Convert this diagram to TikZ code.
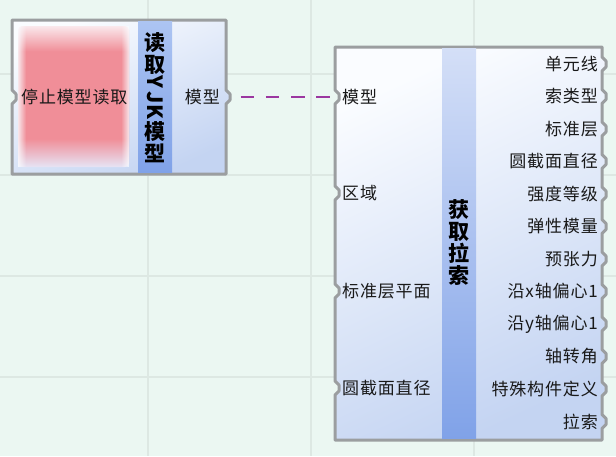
\documentclass[tikz,border=0pt]{standalone}
\usepackage{fontspec}
\usetikzlibrary{fadings}
\newfontfamily\portfont{Noto Sans CJK SC}[LetterSpace=5]
\newfontfamily\titlefont{Noto Sans CJK SC}
\definecolor{bgcol}{RGB}{235,247,242}
\definecolor{gridcol}{RGB}{221,232,227}
\definecolor{framecol}{RGB}{155,158,160}
\definecolor{bodytop}{RGB}{250,252,255}
\definecolor{bodybot}{RGB}{196,212,242}
\definecolor{wirecol}{RGB}{155,55,160}
\definecolor{txtcol}{RGB}{25,25,25}
\definecolor{redtop}{RGB}{250,232,236}
\definecolor{redmid}{RGB}{240,142,152}
\definecolor{redlow}{RGB}{230,228,245}
\definecolor{yjktop}{RGB}{172,196,242}
\definecolor{cbltop}{RGB}{212,223,247}
\definecolor{stripbot}{RGB}{128,162,232}
\pgfdeclareverticalshading{btnshade}{100bp}{color(0bp)=(redlow); color(25bp)=(redlow); color(35bp)=(redmid); color(66bp)=(redmid); color(75bp)=(redtop); color(100bp)=(redtop)}
\tikzset{
  gridline/.style={draw=gridcol, line width=1.3pt},
  frame/.style={draw=framecol, line width=3pt, line join=round},
  body/.style={top color=bodytop, bottom color=bodybot, shading angle=25},
  strip/.style={top color=#1, bottom color=stripbot},
  btn/.style={shading=btnshade, rounded corners=4pt},
  soft/.style={fill=bodytop, path fading=#1, fill opacity=0.8},
  title/.style={font=\titlefont\bfseries\fontsize{21}{22}\selectfont, align=center, inner sep=0, text=black},
  inp/.style={font=\portfont\fontsize{17}{19}\selectfont, anchor=west, inner sep=0, text=txtcol},
  outp/.style={font=\portfont\fontsize{17}{19}\selectfont, anchor=east, inner sep=0, text=txtcol},
  wire/.style={draw=wirecol, line width=1.8pt, dash pattern=on 13.5pt off 11.7pt, dash phase=13.5pt}
}
\begin{document}
\begin{tikzpicture}[x=1pt,y=-1pt]
  \useasboundingbox (0,0) rectangle (616,456);
  \fill[bgcol] (0,0) rectangle (616,456);
  \foreach \y in {74,175,276,377}
    \draw[gridline] (0,\y) -- (616,\y);
  \foreach \x in {148,311,474}
    \draw[gridline] (\x,0) -- (\x,456);

  % read YJK model
  \draw[frame, body] (12,20) -- (226,20) -- (226,90) -- (230,94) -- (230,100) -- (226,104)
    -- (226,174) -- (12,174) -- (12,104) -- (16,100) -- (16,94) -- (12,90) -- cycle;
  \shade[strip=yjktop] (138,21.5) rectangle (172,172.5);
  \shade[btn] (18,26) rectangle (129,167);
  \fill[soft=east] (18,26) rectangle (26,167);
  \fill[soft=west] (121,26) rectangle (129,167);
  \node[inp] (yjk-in) at (21,97) {停止模型读取};
  \node[title] (yjk-title) at (155,97.5) {读\\取\\[-4pt]\rotatebox[origin=c]{-90}{Y}\\[-7pt]\rotatebox[origin=c]{-90}{J}\\[-7pt]\rotatebox[origin=c]{-90}{K}\\[-2.5pt]模\\型};
  \node[outp] (yjk-out) at (220,97) {模型};
  \coordinate (yjk-grip) at (229,97);

  % get cables
  \draw[frame, body] (335,47) -- (602,47)
    \foreach \i in {0,...,11} { -- (602,64+32.5*\i-7) -- (606,64+32.5*\i-3) -- (606,64+32.5*\i+3) -- (602,64+32.5*\i+7) }
    -- (602,440) -- (335,440)
    \foreach \y in {388,291,193,97} { -- (335,\y+7) -- (339,\y+3) -- (339,\y-3) -- (335,\y-7) }
    -- cycle;
  \shade[strip=cbltop] (442,48.5) rectangle (476,438.5);
  \node[title] (cbl-title) at (459,242) {获\\取\\拉\\索};
  \foreach \y/\t [count=\i] in {97/模型, 193/区域, 291/标准层平面, 388/圆截面直径}
    \node[inp] (cbl-in\i) at (342,\y) {\t};
  \foreach \t [count=\i from 0] in {单元线, 索类型, 标准层, 圆截面直径, 强度等级, 弹性模量,
      预张力, 沿x轴偏心1, 沿y轴偏心1, 轴转角, 特殊构件定义, 拉索}
    \node[outp] (cbl-out\i) at (598,64+32.5*\i) {\t};
  \coordinate (cbl-grip) at (338,97);

  \draw[wire] (yjk-grip) -- (cbl-grip);
\end{tikzpicture}
\end{document}
